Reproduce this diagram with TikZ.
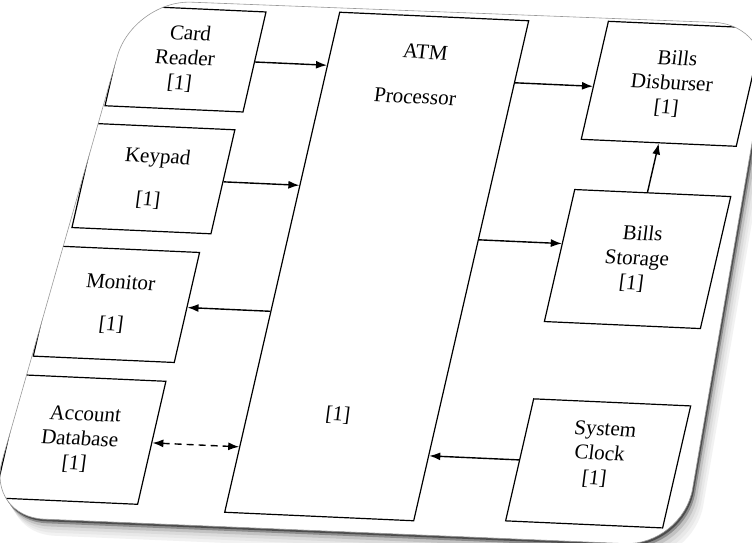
\documentclass[tikz,border=0pt]{standalone}
\usepackage{fontspec}
\setmainfont{Liberation Serif}
\newfontfamily\boxfont[FakeSlant=-0.1]{Liberation Serif}
\usetikzlibrary{arrows.meta}

\begin{document}
\begin{tikzpicture}[x=1pt,y=-1pt,
  unit/.style={draw,rectangle,line width=1.2pt,align=center,inner sep=0pt,font=\boxfont\fontsize{21}{24.5}\selectfont},
  caption/.style={inner sep=0pt,font=\boxfont\fontsize{21}{24.5}\selectfont},
  flow/.style={line width=1.4pt,-{Latex[length=11pt,width=8pt]}}]
\useasboundingbox (0,0) rectangle (752,543);
\fill[white] (0,0) rectangle (752,543);
\def\cardpath{(132,-6) -- (104,512) -- (800,510) -- (770,-10) -- cycle}
\begin{scope}[cm={1,-0.045,0.23,1,(0,0)},transform shape]
% card and its shadow
\foreach \d/\c in {16/5,13/9,10/14,7/24,4/45,2/70}
  \fill[black!\c,rounded corners=58pt,shift={(0.9*\d,\d)}] \cardpath;
\fill[white,rounded corners=58pt] \cardpath;
\begin{scope}
\clip[rounded corners=58pt] \cardpath;
\node[unit,minimum width=138pt,minimum height=100pt] (reader) at (197,50) {Card\\Reader\\{[1]}};
\node[unit,minimum width=139pt,minimum height=104pt] (keypad) at (192.5,170) {Keypad\\[18pt]{[1]}};
\node[unit,minimum width=141pt,minimum height=110pt] (monitor) at (184.5,296) {Monitor\\[17pt]{[1]}};
\node[unit,minimum width=143pt,minimum height=123pt] (database) at (179.5,431.5) {Account\\Database\\{[1]}};
\node[unit,minimum width=189pt,minimum height=500pt] (atm) at (433.5,247) {};
\node[unit,minimum width=155pt,minimum height=118pt] (disburser) at (684.5,53) {Bills\\Disburser\\{[1]}};
\node[unit,minimum width=156pt,minimum height=132pt] (storage) at (690,228) {Bills\\Storage\\{[1]}};
\node[unit,minimum width=157pt,minimum height=122pt] (clock) at (697.5,432) {System\\Clock\\{[1]}\\[-4pt]{}};
\end{scope}
\draw[black!40,line width=0.6pt,rounded corners=58pt] \cardpath;
\node[caption] (atmname) at ([yshift=-36pt]atm.north) {ATM};
\node[caption] (atmrole) at ([yshift=-81pt]atm.north) {Processor};
\node[caption] (atmmark) at ([xshift=-4pt,yshift=102pt]atm.south) {[1]};
% connectors
\draw[flow] (reader.east) -- (reader.east -| atm.west);
\draw[flow] (keypad.east) -- (keypad.east -| atm.west);
\draw[flow] (monitor.east -| atm.west) -- (monitor.east);
\draw[flow,{Latex[length=11pt,width=8pt]}-{Latex[length=11pt,width=8pt]},dash pattern=on 7pt off 5pt] (database.east) -- (database.east -| atm.west);
\draw[flow] ([yshift=-6pt]disburser.west -| atm.east) -- ([yshift=-6pt]disburser.west);
\draw[flow] ([yshift=12pt]storage.west -| atm.east) -- ([yshift=12pt]storage.west);
\draw[flow] (storage.north -| disburser.south) -- (disburser.south);
\draw[flow] (clock.west) -- (clock.west -| atm.east);
\end{scope}
\end{tikzpicture}
\end{document}
